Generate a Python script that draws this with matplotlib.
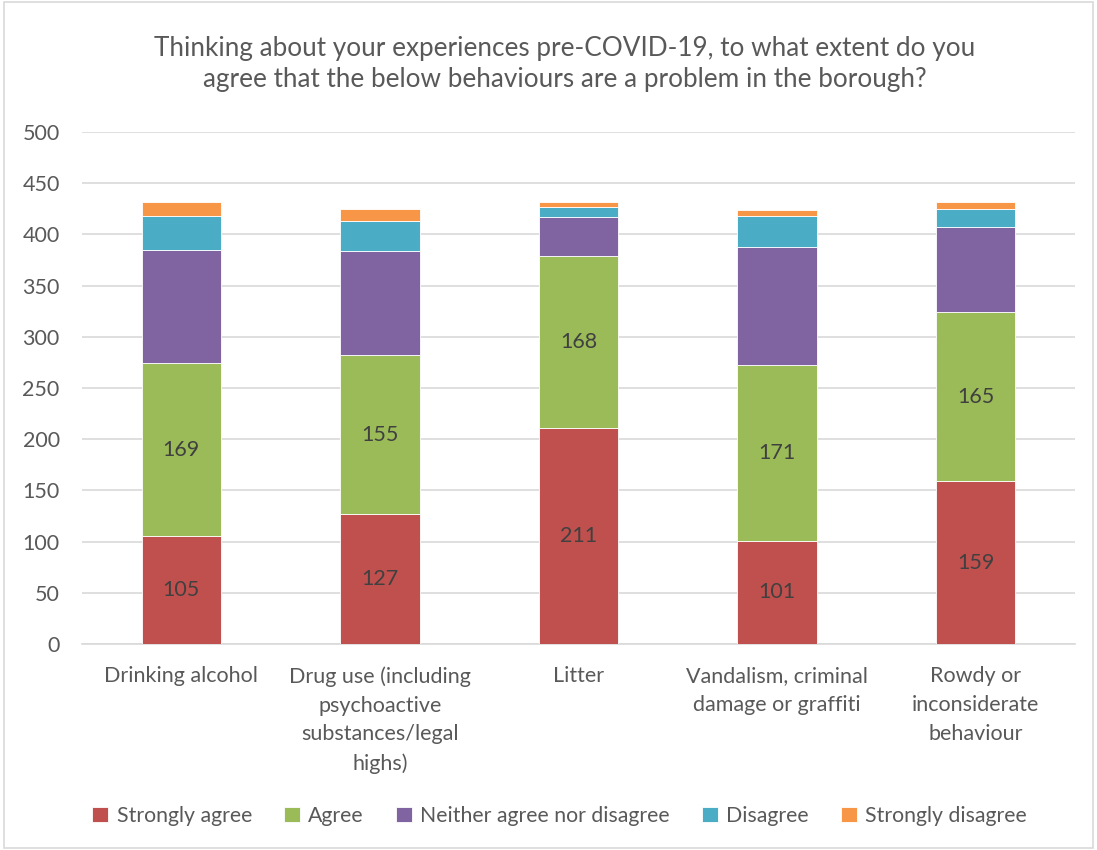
import numpy as np
import matplotlib
matplotlib.use("Agg")
import matplotlib.pyplot as plt
from matplotlib.patches import Rectangle

plt.rcParams["font.family"] = ["Lato", "DejaVu Sans"]

TEXT = "#595959"
GRID = "#D9D9D9"

categories = ["Drinking alcohol",
              "Drug use (including\npsychoactive\nsubstances/legal\nhighs)",
              "Litter",
              "Vandalism, criminal\ndamage or graffiti",
              "Rowdy or\ninconsiderate\nbehaviour"]
series_names = ["Strongly agree", "Agree", "Neither agree nor disagree",
                "Disagree", "Strongly disagree"]
strongly_agree = [105, 127, 211, 101, 159]
agree = [169, 155, 168, 171, 165]
neither = [111, 102, 38, 116, 83]
disagree = [33, 29, 10, 30, 18]
strongly_disagree = [14, 12, 5, 6, 7]
colors = ["#C0504D", "#9BBB59", "#8064A2", "#4BACC6", "#F79646"]
labelled = [True, True, False, False, False]

fig = plt.figure(figsize=(10.97, 8.5), dpi=100)
ax = fig.add_axes([0.0747, 0.2424, 0.9053, 0.6023])

x = np.arange(len(categories))
bottom = np.zeros(len(categories))
series = [strongly_agree, agree, neither, disagree, strongly_disagree]
for name, vals, col, lab in zip(series_names, series, colors, labelled):
    vals = np.array(vals, dtype=float)
    ax.bar(x, vals, 0.4, bottom=bottom, color=col, label=name,
           edgecolor="white", linewidth=0.6, zorder=3)
    if lab:
        for xi, b, v in zip(x, bottom, vals):
            ax.text(xi, b + v / 2, f"{v:.0f}", ha="center", va="center",
                    fontsize=15.5, color="#404040", zorder=4)
    bottom += vals

ax.set_xlim(-0.5, 4.5)
ax.set_ylim(0, 500)
ax.set_yticks(np.arange(0, 501, 50))
ax.yaxis.grid(True, color=GRID, lw=1.2, zorder=0)
ax.set_axisbelow(True)
for s in ["top", "right", "left"]:
    ax.spines[s].set_visible(False)
ax.spines["bottom"].set_color(GRID)
ax.spines["bottom"].set_linewidth(1.2)
ax.tick_params(axis="both", length=0, labelsize=15.5, colors=TEXT)
ax.tick_params(axis="y", pad=16)
ax.set_xticks(x)
ax.set_xticklabels(categories, linespacing=1.55, va="top")
ax.tick_params(axis="x", pad=16)

fig.text(0.515, 0.925,
         "Thinking about your experiences pre-COVID-19, to what extent do you\n"
         "agree that the below behaviours are a problem in the borough?",
         ha="center", va="center", fontsize=18.8, color=TEXT, linespacing=1.3)

leg = fig.legend(loc="center", bbox_to_anchor=(0.51, 0.04), ncol=5,
                 frameon=False, fontsize=15.3, handlelength=0.75,
                 handleheight=0.75, handletextpad=0.4, columnspacing=1.5)
for t in leg.get_texts():
    t.set_color(TEXT)

fig.patches.append(Rectangle((0.004, 0.002), 0.992, 0.996, transform=fig.transFigure,
                             fill=False, edgecolor=GRID, lw=1.2))

fig.savefig("out.png", dpi=100)
